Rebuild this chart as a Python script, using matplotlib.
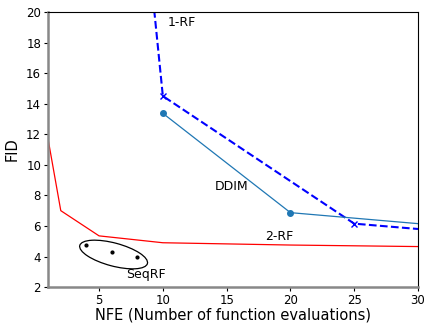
import matplotlib
matplotlib.use("Agg")
import matplotlib.pyplot as plt
from matplotlib.patches import Ellipse
from matplotlib.transforms import ScaledTranslation, Affine2D

# data
nfe_2rf = [1, 2, 5, 10, 20, 30]
fid_2rf = [11.7, 7.0, 5.35, 4.9, 4.75, 4.65]

nfe_1rf = [5, 10, 25, 30]
fid_1rf = [56.0, 14.5, 6.15, 5.8]

nfe_ddim = [10, 20, 30]
fid_ddim = [13.37, 6.87, 6.15]

nfe_seq = [4, 6, 8]
fid_seq = [4.75, 4.31, 3.97]

fig = plt.figure(figsize=(4.25, 3.24), dpi=100)
ax = fig.add_axes([0.113, 0.114, 0.8705, 0.849])

ax.plot(nfe_2rf, fid_2rf, color='red', lw=0.9)
ax.plot(nfe_1rf, fid_1rf, color='blue', ls='--', lw=1.5, marker='x', ms=5,
        markevery=[1, 2])
ax.plot(nfe_ddim, fid_ddim, color='#1f77b4', lw=0.9, marker='o', ms=4,
        markevery=[0, 1])
ax.plot(nfe_seq, fid_seq, 'k.', ms=4, ls='none')

# ellipse around SeqRF points (size in pixels)
cx = 6.14
cy = 4.13
tr = Affine2D() + ScaledTranslation(cx, cy, ax.transData)
ell = Ellipse((0, 0), width=70, height=23, angle=-15, fill=False,
              edgecolor='black', lw=0.9, transform=tr)
ax.add_patch(ell)

ax.text(10.4, 19.3, '1-RF', fontsize=9, va='center', ha='left')
ax.text(14.1, 8.6, 'DDIM', fontsize=9, va='center', ha='left')
ax.text(18.05, 5.34, '2-RF', fontsize=9, va='center', ha='left')
ax.text(7.1, 2.8, 'SeqRF', fontsize=9, va='center', ha='left')

ax.set_xlim(1, 30)
ax.set_ylim(2, 20)
ax.set_xticks([5, 10, 15, 20, 25, 30])
ax.set_yticks([2, 4, 6, 8, 10, 12, 14, 16, 18, 20])
ax.tick_params(labelsize=8.5, length=3, width=0.8, pad=2)
ax.set_xlabel('NFE (Number of function evaluations)', fontsize=10.5, labelpad=0.5)
ax.set_ylabel('FID', fontsize=10.5, labelpad=5)

for s in ['left', 'bottom']:
    ax.spines[s].set_color('#888888')
    ax.spines[s].set_linewidth(1.8)
for s in ['top', 'right']:
    ax.spines[s].set_color('black')
    ax.spines[s].set_linewidth(0.8)

fig.savefig('out.png', dpi=100)
